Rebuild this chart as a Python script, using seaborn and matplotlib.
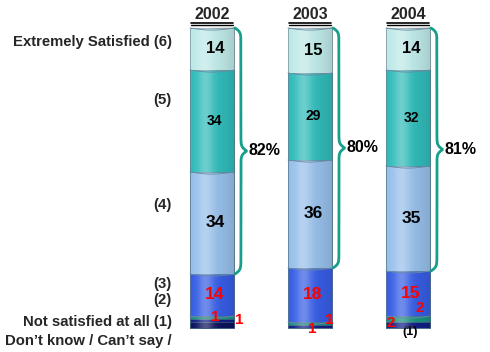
import numpy as np
import pandas as pd
import matplotlib
matplotlib.use("Agg")
import matplotlib.pyplot as plt
import seaborn as sns

# %% Datos
anios = ["2002", "2003", "2004"]
no_sabe = [2, 0, 0]
nivel_1 = [1, 1, 2]
nivel_2 = [1, 1, 2]
nivel_3 = [14, 18, 15]
nivel_4 = [34, 36, 35]
nivel_5 = [34, 29, 32]
nivel_6 = [14, 15, 14]
satisfechos = ["82%", "80%", "81%"]

etiquetas_izq = ["Extremely Satisfied (6)", "(5)", "(4)", "(3)", "(2)",
                 "Not satisfied at all (1)", "Don\u2019t know / Can\u2019t say /"]

capas = [no_sabe, nivel_1, nivel_2, nivel_3, nivel_4, nivel_5, nivel_6]
colores = ["#0c1460", "#12208c", "#1a9a86", "#3a62ee", "#9ec8f4", "#33c4c2", "#c6f3f1"]

df = pd.DataFrame({"anio": anios})
acum = np.cumsum(np.array(capas), axis=0)

# %% Figura
sns.set_style("white")
plt.rcParams["font.family"] = ["Liberation Sans", "DejaVu Sans"]
fig = plt.figure(figsize=(4.9, 3.52), dpi=100)
ax = fig.add_axes([0, 0, 1, 1])
ancho = 0.45

# barras apiladas: se dibuja la suma acumulada de arriba hacia abajo
for k in range(len(capas) - 1, -1, -1):
    df["valor"] = acum[k]
    sns.barplot(data=df, x="anio", y="valor", color=colores[k], saturation=1,
                width=ancho, edgecolor="#5a7a90", linewidth=0.4, ax=ax)

# efecto cilindro (brillo a la izquierda, sombra a la derecha)
t = np.linspace(0, 1, 60)
brillo = np.zeros((1, 60, 4))
brillo[..., :3] = 1
brillo[0, :, 3] = 0.3 * np.exp(-((t - 0.35) / 0.18) ** 2)
sombra = np.zeros((1, 60, 4))
sombra[0, :, 3] = 0.16 * t ** 2 + 0.05 * (1 - t) ** 3
for i in range(len(anios)):
    ext = [i - ancho / 2, i + ancho / 2, 0, acum[-1][i]]
    ax.imshow(brillo, extent=ext, aspect="auto", zorder=3)
    ax.imshow(sombra, extent=ext, aspect="auto", zorder=3)
    # bordes curvos de cada segmento
    xs = np.linspace(i - ancho / 2, i + ancho / 2, 40)
    curva = 0.7 * np.sin(np.pi * (xs - xs[0]) / ancho)
    for k in range(2, len(capas)):
        ax.plot(xs, acum[k][i] - curva, color="#6a8aa0", lw=0.6, zorder=4)

# numeros dentro de las barras
for i in range(len(anios)):
    for k, tam, col in [(6, 12, "black"), (5, 10, "black"), (4, 12.5, "black"), (3, 12.5, "red")]:
        centro = acum[k][i] - capas[k][i] / 2
        ax.text(i + 0.03, centro, str(capas[k][i]), ha="center", va="center",
                fontsize=tam, fontweight="bold", color=col, zorder=5)

# etiquetas pequeñas de los niveles 1 y 2
rojo = dict(fontsize=11, fontweight="bold", color="red", ha="center", va="center", zorder=6)
ax.text(0.03, acum[2][0] - 0.5, str(nivel_2[0]), **rojo)
ax.text(0.28, acum[1][0] - 0.5, str(nivel_1[0]), **rojo)
ax.text(1.02, -0.5, str(nivel_1[1]), **rojo)
ax.text(1.2, 2.5, str(nivel_2[1]), **rojo)
ax.text(2.12, acum[2][2] + 2.5, str(nivel_2[2]), **rojo)
ax.text(1.82, acum[1][2] - 0.5, str(nivel_1[2]), **rojo)
ax.text(2.02, -1.5, "(1)", fontsize=9, fontweight="bold", color="black",
        ha="center", va="center", zorder=1)


# llaves de satisfechos (4)+(5)+(6)
def llave(x0, y0, y1, w, k=60):
    s = np.linspace(0, 1, 400)
    u = 1 - np.abs(2 * s - 1)
    f = 1 / (1 + np.exp(-k * u)) + 1 / (1 + np.exp(-k * (u - 1))) - 0.5
    return x0 + w * f, y0 + (y1 - y0) * s


for i in range(len(anios)):
    xb, yb = llave(i + ancho / 2 + 0.01, acum[3][i], acum[6][i], 0.12)
    ax.plot(xb, yb, color="#16a08c", lw=2, zorder=6, solid_capstyle="round")
    ax.text(i + ancho / 2 + 0.15, (acum[3][i] + acum[6][i]) / 2, satisfechos[i],
            fontsize=11.5, fontweight="bold", ha="left", va="center", color="black")

# años subrayados
for i, a in enumerate(anios):
    ax.text(i, 104.5, a, fontsize=11.5, fontweight="bold", ha="center", va="center")
    ax.plot([i - 0.21, i + 0.21], [101.8, 101.8], color="black", lw=1.2)
    ax.plot([i - 0.21, i + 0.21], [101.1, 101.1], color="black", lw=1.0)

# etiquetas de la izquierda
pos_y = [95.3, 76, 41, 14.5, 9.3, 2, -4.3]
for et, y in zip(etiquetas_izq, pos_y):
    ax.text(-0.41, y, et, fontsize=10.7, fontweight="bold", ha="right", va="center")

ax.set_xlim(-212 / 98, (490 - 212) / 98)
ax.set_ylim(-8, 109.33)
ax.axis("off")
fig.savefig("out.png", dpi=100)
